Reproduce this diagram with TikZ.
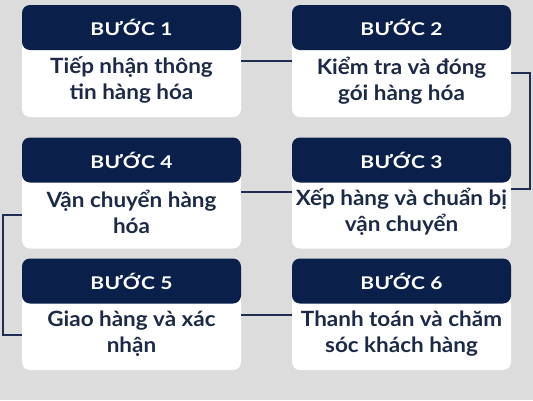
\documentclass[tikz,border=0pt]{standalone}
\usepackage{fontspec}
\setmainfont{Lato}
\newfontfamily\hdrfont[FakeStretch=1.2,LetterSpace=2]{Lato Bold}
\newfontfamily\bodyfont[FakeStretch=1.07]{Lato Bold}
\definecolor{bgray}{HTML}{DCDCDC}
\definecolor{navy}{HTML}{0B1F4B}
\definecolor{ink}{HTML}{1C2A48}
\definecolor{wire}{HTML}{1E2D50}
\begin{document}
\begin{tikzpicture}[x=1pt,y=-1pt,
  hdr/.style={rectangle, fill=navy, rounded corners=8pt, minimum width=219pt, minimum height=45pt, text=white, font=\hdrfont\fontsize{17.5}{20}\selectfont, inner sep=0pt},
  bodybox/.style={rectangle, fill=white, rounded corners=8pt, minimum width=219pt, minimum height=73pt, text=ink, font=\bodyfont\fontsize{21}{26}\selectfont, align=center, inner sep=0pt},
  wirel/.style={draw=wire, line width=2pt}]
\fill[bgray] (0,0) rectangle (533,400);
\useasboundingbox (0,0) rectangle (533,400);
% bodies
\node[bodybox] (b1) at (131.5,80.5) {Tiếp nhận thông\\tin hàng hóa};
\node[bodybox] (b2) at (401.5,80.5) {Kiểm tra và đóng\\gói hàng hóa};
\node[bodybox] (b3) at (401.5,212) {Xếp hàng và chuẩn bị\\vận chuyển};
\node[bodybox] (b4) at (131.5,212) {Vận chuyển hàng\\hóa};
\node[bodybox] (b5) at (131.5,333.5) {Giao hàng và xác\\nhận};
\node[bodybox] (b6) at (401.5,333.5) {Thanh toán và chăm\\sóc khách hàng};
\foreach \b in {b1,b2,b3,b4,b5,b6}{
  \fill[white] (\b.north west) rectangle ++(8,8);
  \fill[white] (\b.north east) rectangle ++(-8,8);
}
% headers
\node[hdr] (h1) at (131.5,27.5) {BƯỚC 1};
\node[hdr] (h2) at (401.5,27.5) {BƯỚC 2};
\node[hdr] (h3) at (401.5,160) {BƯỚC 3};
\node[hdr] (h4) at (131.5,160) {BƯỚC 4};
\node[hdr] (h5) at (131.5,281) {BƯỚC 5};
\node[hdr] (h6) at (401.5,281) {BƯỚC 6};
% connectors
\draw[wirel] ([yshift=-17pt]b1.north east) -- ([yshift=-17pt]b2.north west);
\draw[wirel] ([yshift=-29pt]b2.north east) -- ++(19,0) |- ([yshift=-14pt]b3.north east);
\draw[wirel] ([yshift=-17pt]b4.north east) -- ([yshift=-17pt]b3.north west);
\draw[wirel] ([yshift=-3pt]b4.west) -- ++(-19,0) |- ([yshift=-1.5pt]b5.west);
\draw[wirel] ([yshift=-18pt]b5.north east) -- ([yshift=-18pt]b6.north west);
\end{tikzpicture}
\end{document}
